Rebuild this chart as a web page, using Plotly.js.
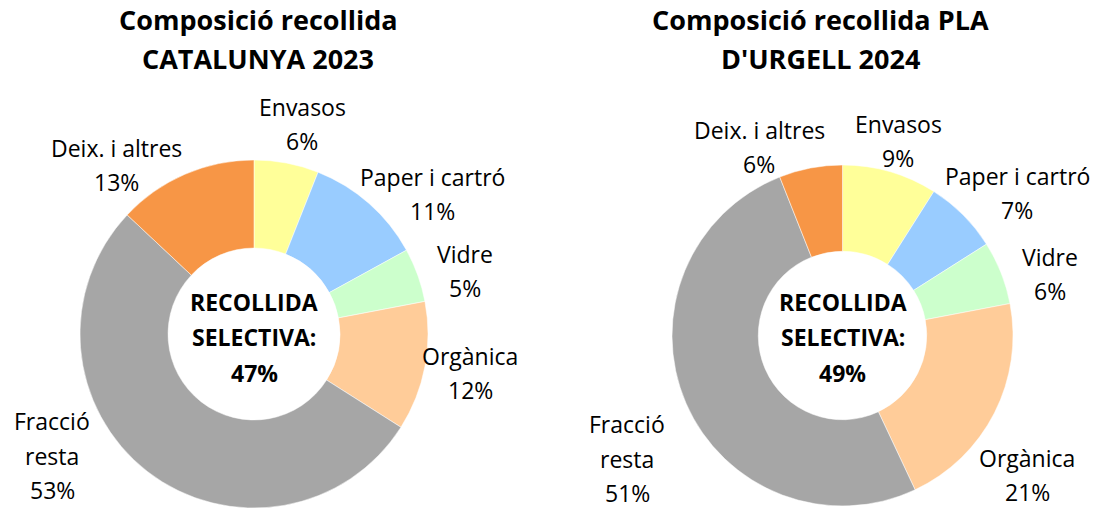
<!DOCTYPE html>
<html>
<head>
<meta charset="utf-8">
<script src="https://cdn.plot.ly/plotly-3.0.1.min.js"></script>
<style>
  html, body { margin: 0; padding: 0; background: #fff; }
  #chart { width: 1102px; height: 510px; }
</style>
</head>
<body>
<div id="chart"></div>
<script>
// ---- Data ----
const categories = ['Envasos', 'Paper i cartró', 'Vidre', 'Orgànica', 'Fracció resta', 'Deix. i altres'];
const labelLines = [['Envasos'], ['Paper i cartró'], ['Vidre'], ['Orgànica'], ['Fracció', 'resta'], ['Deix. i altres']];
const catalunyaValues = [6, 11, 5, 12, 53, 13];
const urgellValues = [9, 7, 6, 21, 51, 6];
const titleCatalunya = ['Composició recollida', 'CATALUNYA 2023'];
const titleUrgell = ['Composició recollida PLA', "D'URGELL 2024"];
const centerLines = ['RECOLLIDA', 'SELECTIVA:'];
const restCategory = 'Fracció resta';

// ---- Styles / layout ----
const colors = ['#FFFF99', '#99CCFF', '#CCFFCC', '#FFCC99', '#A6A6A6', '#F79646'];
const W = 1102, H = 510;
const FONT = 'Open Sans, Noto Sans, DejaVu Sans, sans-serif';

const charts = [
  {
    values: catalunyaValues, title: titleCatalunya,
    box: { l: 80, r: 428, t: 160, b: 508 },
    titleX: 258, titleY: [20, 58],
    centerY: [302, 337, 373],
    labelPos: [[302, 107], [432, 177], [465, 254], [470, 356], [52, 421], [116, 148]]
  },
  {
    values: urgellValues, title: titleUrgell,
    box: { l: 672, r: 1013, t: 165, b: 506 },
    titleX: 821, titleY: [20, 58],
    centerY: [302, 337, 373],
    labelPos: [[898, 124], [1017, 176], [1050, 257], [1027, 458], [627, 424], [759, 130]]
  }
];

const px = x => x / W;
const py = y => 1 - y / H;

const traces = [];
const annotations = [];

function addLines(lines, x, y0, step, font) {
  lines.forEach((t, i) => {
    annotations.push({
      text: t, xref: 'paper', yref: 'paper',
      x: px(x), y: py(y0 + i * step),
      xanchor: 'center', yanchor: 'middle',
      showarrow: false, borderpad: 0, font: font
    });
  });
}

charts.forEach(c => {
  traces.push({
    type: 'pie',
    labels: categories,
    values: c.values,
    sort: false,
    direction: 'clockwise',
    rotation: 0,
    hole: 0.494,
    textinfo: 'none',
    hoverinfo: 'label+percent',
    marker: { colors: colors, line: { color: '#ffffff', width: 0.5 } },
    domain: { x: [px(c.box.l), px(c.box.r)], y: [py(c.box.b), py(c.box.t)] },
    showlegend: false
  });

  const total = c.values.reduce((a, b) => a + b, 0);
  categories.forEach((cat, i) => {
    const pct = Math.round(c.values[i] / total * 100) + '%';
    const lines = labelLines[i].concat([pct]);
    const [x, y] = c.labelPos[i];
    const step = lines.length > 2 ? 34.5 : 34;
    addLines(lines, x, y, step, { family: FONT, size: 23, color: '#000' });
  });

  c.title.forEach((t, i) => {
    annotations.push({
      text: '<b>' + t + '</b>', xref: 'paper', yref: 'paper',
      x: px(c.titleX), y: py(c.titleY[i]),
      xanchor: 'center', yanchor: 'middle', showarrow: false,
      font: { family: FONT, size: 27, color: '#000' }
    });
  });

  const selective = total - c.values[categories.indexOf(restCategory)];
  const cx = (c.box.l + c.box.r) / 2;
  const cl = centerLines.concat([Math.round(selective / total * 100) + '%']);
  cl.forEach((t, i) => {
    annotations.push({
      text: '<b>' + t + '</b>', xref: 'paper', yref: 'paper',
      x: px(cx), y: py(c.centerY[i]),
      xanchor: 'center', yanchor: 'middle', showarrow: false,
      font: { family: FONT, size: 23, color: '#000' }
    });
  });
});

const layout = {
  width: W, height: H,
  margin: { l: 0, r: 0, t: 0, b: 0 },
  paper_bgcolor: '#ffffff',
  plot_bgcolor: '#ffffff',
  showlegend: false,
  annotations: annotations
};

Plotly.newPlot('chart', traces, layout, { displayModeBar: false, staticPlot: true });
</script>
</body>
</html>
